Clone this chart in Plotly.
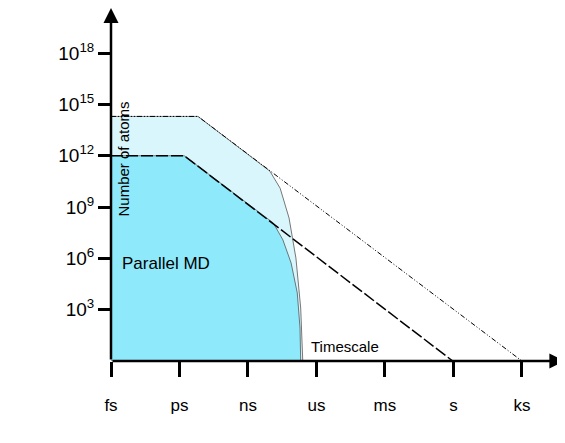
import plotly.graph_objects as go

x_labels = ["fs", "ps", "ns", "us", "ms", "s", "ks"]
y_exps = [3, 6, 9, 12, 15, 18]

# dark region (Parallel MD) boundary: x in timescale units (3 decades each), y = log10(atoms)
dark_x = [0, 1.07, 2.37, 2.51, 2.63, 2.72, 2.76, 2.77]
dark_y = [12, 12, 8.07, 7.08, 5.73, 3.98, 1.93, 0]
light_x = [0, 1.27, 2.32, 2.47, 2.60, 2.70, 2.77, 2.80]
light_y = [14.3, 14.3, 11.1, 10.1, 8.36, 6.02, 3.1, 0]
dash_x = [0, 1.07, 4.99]
dash_y = [12, 12, 0]
dashdot_x = [0, 1.27, 6.0]
dashdot_y = [14.3, 14.3, 0]

fig = go.Figure()
fig.add_trace(go.Scatter(x=light_x + [0], y=light_y + [0], fill="toself", fillcolor="#d9f6fd",
                         mode="lines", line=dict(color="#777", width=1), cliponaxis=False))
fig.add_trace(go.Scatter(x=dark_x + [0], y=dark_y + [0], fill="toself", fillcolor="#8eeafb",
                         mode="lines", line=dict(color="#555", width=0.8), cliponaxis=False))
fig.add_trace(go.Scatter(x=dash_x, y=dash_y, mode="lines",
                         line=dict(color="black", width=1.5, dash="12px,3px"), cliponaxis=False))
fig.add_trace(go.Scatter(x=dashdot_x, y=dashdot_y, mode="lines",
                         line=dict(color="black", width=1, dash="5px,2px,1px,2px,1px,2px"), cliponaxis=False))

font = dict(family="Liberation Sans, Arial, sans-serif", size=17, color="black")
fig.update_layout(
    width=565, height=443, margin=dict(l=103, r=10, t=0, b=90),
    plot_bgcolor="white", paper_bgcolor="white", showlegend=False, font=font,
    xaxis=dict(range=[0, 6.6], tickvals=list(range(7)), ticktext=x_labels, ticks="outside",
               ticklen=15, tickwidth=3, tickcolor="black", showgrid=False, zeroline=False,
               showline=False, ticklabelstandoff=14, automargin=False),
    yaxis=dict(range=[0, 20.64], tickvals=y_exps, ticktext=[f"10<sup>{e}</sup>" for e in y_exps],
               ticks="outside", ticklen=12, tickwidth=3, tickcolor="black", showgrid=False,
               zeroline=False, showline=False, automargin=False,
               tickfont=dict(size=19)),
)
for (x, y) in [(6.62, 0), (0, 20.64)]:
    fig.add_annotation(x=x, y=y, ax=0, ay=0, xref="x", yref="y", axref="x", ayref="y",
                       showarrow=True, arrowhead=2, arrowsize=1.2, arrowwidth=2.5,
                       arrowcolor="black", text="")
fig.add_annotation(x=0.13, y=5.7, xref="x", yref="y", text="Parallel MD", showarrow=False,
                   xanchor="left", font=font)
fig.add_annotation(x=337, y=6, xref="x domain", yref="paper", text="Timescale", showarrow=False,
                   font=dict(size=15), yanchor="middle")
fig.add_annotation(x=0, y=0.5, xref="paper", yref="paper", xanchor="left", text="Number of atoms",
                   showarrow=False, textangle=-90, font=dict(size=15))
fig.layout.annotations[-2].update(x=(337 - 103) / 452, y=5 / 443, xref="paper", yanchor="bottom")
fig.layout.annotations[-1].update(x=2 / 565, y=(443 - 190) / 443)
fig.write_html("out.html")
